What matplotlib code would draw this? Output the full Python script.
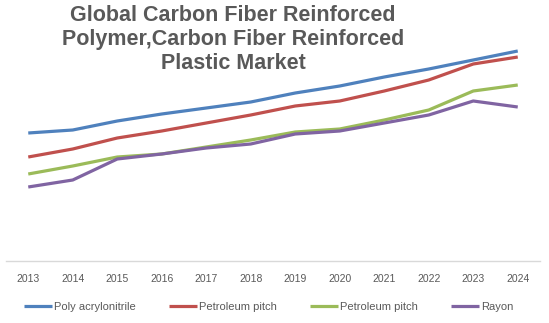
import matplotlib
matplotlib.use("Agg")
import matplotlib.pyplot as plt

# data (arbitrary units, no y axis shown)
years = ["2013", "2014", "2015", "2016", "2017", "2018",
         "2019", "2020", "2021", "2022", "2023", "2024"]
poly_acrylonitrile = [128, 131, 140, 147, 153, 159, 168, 175, 184, 192, 201, 210]
petroleum_pitch = [104, 112, 123, 130, 138, 146, 155, 160, 170, 181, 197, 204]
petroleum_pitch_2 = [87, 95, 104, 107, 114, 121, 129, 132, 141, 151, 170, 176]
rayon = [74, 81, 102, 107, 113, 117, 127, 130, 138, 146, 160, 154]

series = [
    ("Poly acrylonitrile", poly_acrylonitrile, "#4F81BD"),
    ("Petroleum pitch", petroleum_pitch, "#C0504D"),
    ("Petroleum pitch", petroleum_pitch_2, "#9BBB59"),
    ("Rayon", rayon, "#8064A2"),
]

plt.rcParams['font.family'] = ['Liberation Sans', 'DejaVu Sans']
text_grey = "#595959"

fig = plt.figure(figsize=(5.49, 3.23), dpi=100)
ax = fig.add_axes([6 / 549, 62 / 323, 534 / 549, 231 / 323])

x = list(range(len(years)))
for name, vals, col in series:
    ax.plot(x, vals, color=col, lw=2.3, label=name, solid_capstyle="butt")

ax.set_xlim(-0.5, len(years) - 0.5)
ax.set_ylim(0, 231)
ax.set_xticks(x)
ax.set_xticklabels(years, color=text_grey, fontsize=7.5)
ax.tick_params(axis="x", length=0, pad=9)
ax.set_yticks([])
for side in ["top", "left", "right"]:
    ax.spines[side].set_visible(False)
ax.spines["bottom"].set_color("#D9D9D9")
ax.spines["bottom"].set_linewidth(1)

fig.text(233 / 549, 1 - 5 / 323,
         "Global Carbon Fiber Reinforced\nPolymer,Carbon Fiber Reinforced\nPlastic Market",
         ha="center", va="top", fontsize=15.5, fontweight="bold",
         color=text_grey, linespacing=1.2)

leg = fig.legend(loc="center left", bbox_to_anchor=(24 / 549, 1 - 307 / 323),
                 ncol=4, frameon=False, fontsize=8, handlelength=2.5,
                 handletextpad=0.2, columnspacing=3.0, borderpad=0,
                 borderaxespad=0)
for t in leg.get_texts():
    t.set_color(text_grey)

fig.savefig("out.png", dpi=100)
